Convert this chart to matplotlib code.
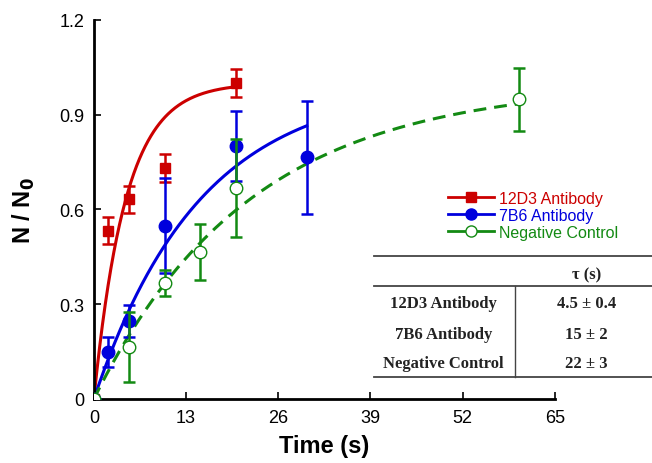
import numpy as np
import matplotlib
matplotlib.use("Agg")
import matplotlib.pyplot as plt
from matplotlib.lines import Line2D

plt.rcParams['font.family'] = ['Liberation Sans', 'DejaVu Sans']

# measured points (time in s, N/N0, error)
t_12d3 = [0, 2, 5, 10, 20]
y_12d3 = [0, 0.533, 0.632, 0.732, 1.0]
e_12d3 = [0, 0.043, 0.042, 0.045, 0.045]

t_7b6 = [0, 2, 5, 10, 20, 30]
y_7b6 = [0, 0.149, 0.247, 0.548, 0.80, 0.765]
e_7b6 = [0, 0.047, 0.05, 0.15, 0.11, 0.178]

t_neg = [0, 5, 10, 15, 20, 60]
y_neg = [0, 0.165, 0.367, 0.466, 0.667, 0.948]
e_neg = [0, 0.11, 0.04, 0.088, 0.155, 0.10]

# fitted time constants (table)
names = ['12D3 Antibody', '7B6 Antibody', 'Negative Control']
tau = [4.5, 15, 22]
tau_txt = ['4.5 \u00b1 0.4', '15 \u00b1 2', '22 \u00b1 3']
fit_end = [20, 30, 60]

red = '#cc0000'
blue = '#0000dd'
green = '#138a13'

fig = plt.figure(figsize=(6.52, 4.64), dpi=100)
ax = fig.add_axes([0.144, 0.138, 0.707, 0.817])

# fit curves
for k, (c, ls) in enumerate([(red, '-'), (blue, '-'), (green, (0, (4.2, 2.6)))]):
    tt = np.linspace(0, fit_end[k], 200)
    ax.plot(tt, 1 - np.exp(-tt / tau[k]), color=c, lw=2.2, ls=ls, zorder=2)

ax.errorbar(t_12d3, y_12d3, yerr=e_12d3, fmt='s', color=red, ms=7,
            capsize=4, elinewidth=1.8, capthick=1.8, zorder=3)
ax.errorbar(t_7b6, y_7b6, yerr=e_7b6, fmt='o', color=blue, ms=9,
            capsize=4, elinewidth=1.8, capthick=1.8, zorder=3)
ax.errorbar(t_neg, y_neg, yerr=e_neg, fmt='o', color=green, mfc='white',
            mec=green, ms=9, capsize=4, elinewidth=1.8, capthick=1.8, zorder=4)

ax.set_xlim(0, 65)
ax.set_ylim(0, 1.2)
ax.set_xticks([0, 13, 26, 39, 52, 65])
ax.set_yticks([0, 0.3, 0.6, 0.9, 1.2])
ax.set_yticklabels(['0', '0.3', '0.6', '0.9', '1.2'])
ax.tick_params(direction='in', length=5, width=1.2, labelsize=13, pad=7)
for s in ['top', 'right']:
    ax.spines[s].set_visible(False)
for s in ['left', 'bottom']:
    ax.spines[s].set_linewidth(2)
ax.set_xlabel('Time (s)', fontsize=17, fontweight='bold', labelpad=6)
ax.set_ylabel('N / N$_\\mathbf{0}$', fontsize=17, fontweight='bold', labelpad=16)

# legend
handles = [
    Line2D([], [], color=red, lw=2, marker='s', ms=7),
    Line2D([], [], color=blue, lw=2, marker='o', ms=8),
    Line2D([], [], color=green, lw=2, marker='o', ms=8, mfc='white'),
]
leg = fig.legend(handles, names, loc='upper left', bbox_to_anchor=(0.675, 0.604),
                 frameon=False, fontsize=11.5, handlelength=2.9, handletextpad=0.3,
                 labelspacing=0.12, borderpad=0)
for txt, c in zip(leg.get_texts(), [red, blue, green]):
    txt.set_color(c)

# tau table
tc = '#444444'
fig.add_artist(Line2D([0.574, 1.0], [0.446, 0.446], color=tc, lw=1.3, transform=fig.transFigure))
fig.add_artist(Line2D([0.574, 1.0], [0.381, 0.381], color=tc, lw=1.3, transform=fig.transFigure))
fig.add_artist(Line2D([0.574, 1.0], [0.185, 0.185], color=tc, lw=1.3, transform=fig.transFigure))
fig.add_artist(Line2D([0.790, 0.790], [0.381, 0.185], color=tc, lw=1.0, transform=fig.transFigure))
tfont = dict(family='Liberation Serif', fontweight='bold', fontsize=12,
             ha='center', va='center', color='#222222')
fig.text(0.900, 0.407, '\u03c4 (s)', **tfont)
row_y = [0.345, 0.279, 0.216]
for n, v, yy in zip(names, tau_txt, row_y):
    fig.text(0.680, yy, n, **tfont)
    fig.text(0.900, yy, v, **tfont)

fig.savefig('out.png', dpi=100)
